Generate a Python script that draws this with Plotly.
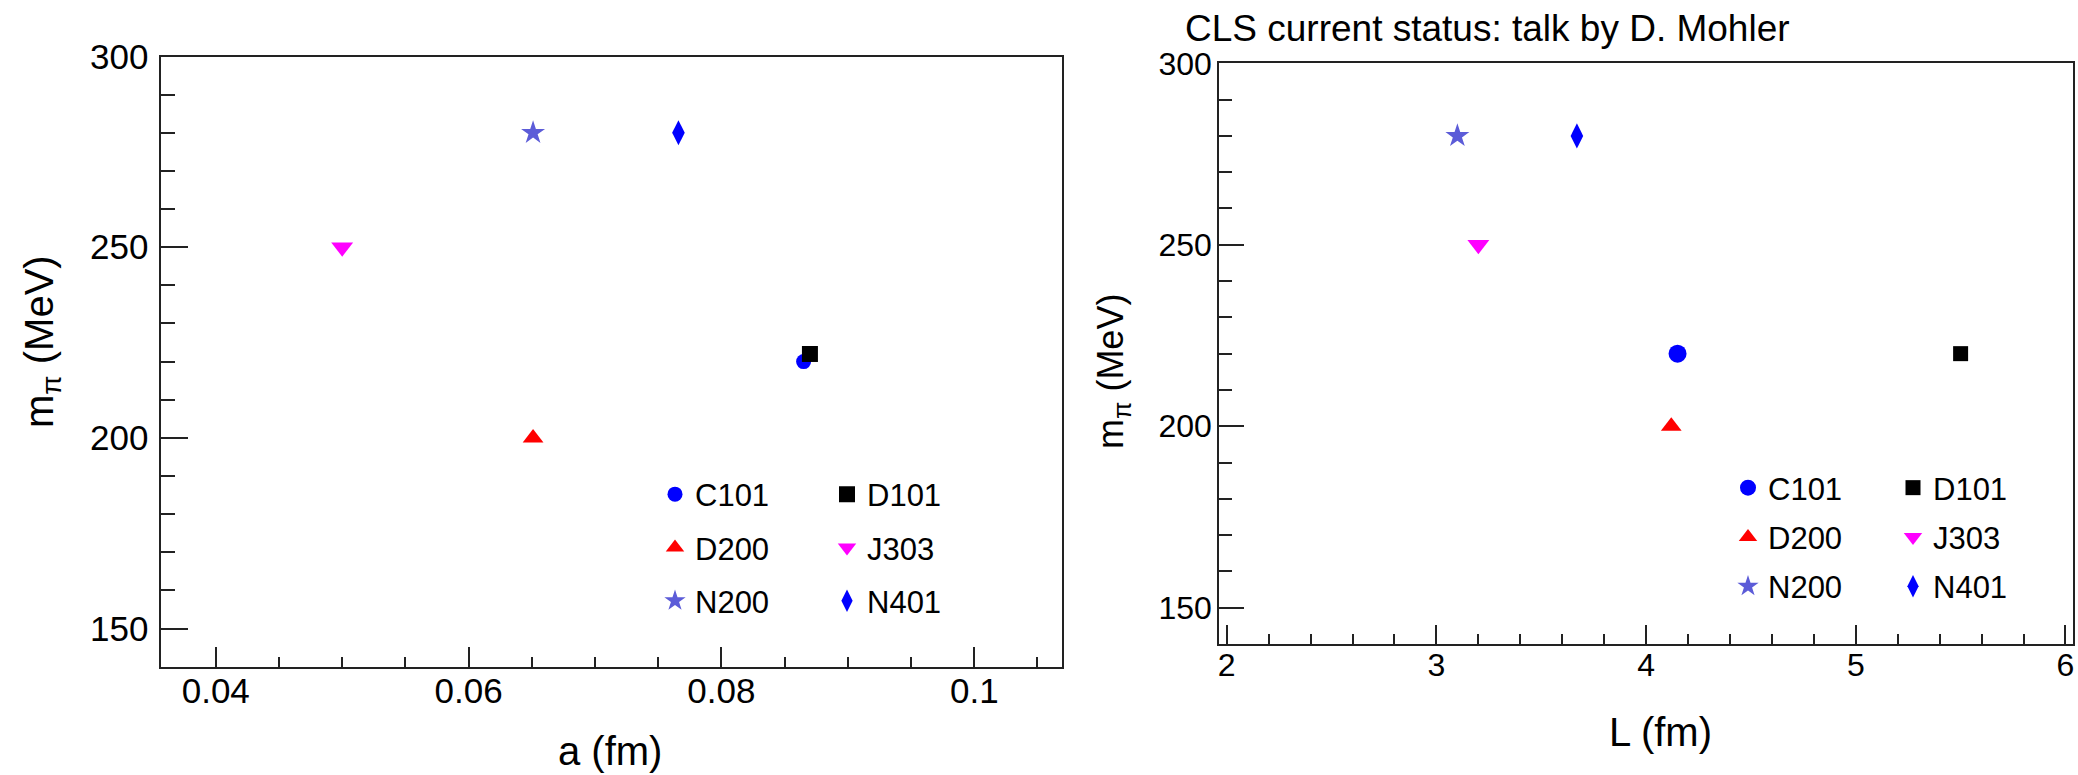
import plotly.graph_objects as go

# ---- data ----
ensembles = ["C101", "D101", "D200", "J303", "N200", "N401"]
a_fm = [0.0865, 0.0870, 0.0651, 0.0500, 0.0651, 0.0766]
mpi_vs_a = [220, 222, 200, 250, 280, 280]
L_fm = [4.15, 5.50, 4.12, 3.20, 3.10, 3.67]
mpi_vs_L = [220, 220, 200, 250, 280, 280]

# ---- styles ----
symbols = ["circle", "square", "triangle-up", "triangle-down", "star", "diamond-tall"]
colors = ["#0000ff", "#000000", "#ff0000", "#ff00ff", "#5c5cd8", "#0000ff"]
sizes_left = [15, 16, 18, 19, 18, 18]
sizes_right = [18, 15, 18, 19, 18, 18]

W, H = 2078, 775
FONT = "Liberation Sans, Arial, Helvetica, sans-serif"


def px(x):
    return x / W


def py(y):
    return 1 - y / H


fig = go.Figure()

for i, name in enumerate(ensembles):
    fig.add_trace(go.Scatter(
        x=[a_fm[i]], y=[mpi_vs_a[i]], mode="markers", name=name,
        xaxis="x", yaxis="y",
        legend="legend" if i % 2 == 0 else "legend2",
        legendgroup="L" + name,
        marker=dict(symbol=symbols[i], color=colors[i], size=sizes_left[i],
                    line=dict(width=0)),
    ))
for i, name in enumerate(ensembles):
    fig.add_trace(go.Scatter(
        x=[L_fm[i]], y=[mpi_vs_L[i]], mode="markers", name=name,
        xaxis="x2", yaxis="y2",
        legend="legend3" if i % 2 == 0 else "legend4",
        legendgroup="R" + name,
        marker=dict(symbol=symbols[i], color=colors[i], size=sizes_right[i],
                    line=dict(width=0)),
    ))

axis_common = dict(
    showline=True, mirror=True, linecolor="#222222", linewidth=2,
    showgrid=False, zeroline=False, ticks="inside", tickcolor="#222222",
    tickwidth=2, color="#000000",
)

fig.update_layout(
    width=W, height=H,
    margin=dict(l=0, r=0, t=0, b=0, autoexpand=False),
    paper_bgcolor="white", plot_bgcolor="white",
    font=dict(family=FONT, color="black"),
    showlegend=True,
    xaxis=dict(domain=[px(161.4), px(1061.5)], range=[0.0357, 0.1069],
               anchor="y", tick0=0.04, dtick=0.02, ticklen=20,
               minor=dict(dtick=0.005, tick0=0.04, ticklen=10, ticks="inside",
                          tickcolor="#222222", tickwidth=2),
               tickfont=dict(size=35), ticklabelstandoff=-8, **axis_common),
    yaxis=dict(domain=[py(666.7), py(56.5)], range=[140, 300],
               anchor="x", tick0=150, dtick=50, ticklen=27,
               minor=dict(dtick=10, tick0=150, ticklen=14, ticks="inside",
                          tickcolor="#222222", tickwidth=2),
               tickfont=dict(size=35), ticklabelstandoff=4, **axis_common),
    xaxis2=dict(domain=[px(1219.2), px(2073)], range=[1.964, 6.036],
                anchor="y2", tick0=2, dtick=1, ticklen=19,
                minor=dict(dtick=0.2, tick0=2, ticklen=10, ticks="inside",
                           tickcolor="#222222", tickwidth=2),
                tickfont=dict(size=32), ticklabelstandoff=-8, **axis_common),
    yaxis2=dict(domain=[py(644), py(63.3)], range=[140, 300],
                anchor="x2", tick0=150, dtick=50, ticklen=25,
                minor=dict(dtick=10, tick0=150, ticklen=13, ticks="inside",
                           tickcolor="#222222", tickwidth=2),
                tickfont=dict(size=32), ticklabelstandoff=-1, **axis_common),
)

leg_common = dict(bgcolor="rgba(0,0,0,0)", borderwidth=0, orientation="v",
                  xanchor="left", yanchor="top", traceorder="grouped",
                  itemclick=False, itemdoubleclick=False)
fig.update_layout(
    legend=dict(x=px(655), y=py(467.5), font=dict(size=31), tracegroupgap=10, **leg_common),
    legend2=dict(x=px(827), y=py(467.5), font=dict(size=31), tracegroupgap=10, **leg_common),
    legend3=dict(x=px(1728), y=py(461), font=dict(size=31), tracegroupgap=6, **leg_common),
    legend4=dict(x=px(1893), y=py(461), font=dict(size=31), tracegroupgap=6, **leg_common),
)

annotations = [
    dict(text="CLS current status: talk by D. Mohler", x=px(1183), y=py(28),
         xanchor="left", yanchor="middle", font=dict(size=37)),
    dict(text="a (fm)", x=px(610), y=py(751), xanchor="center", yanchor="middle",
         font=dict(size=40)),
    dict(text="L (fm)", x=px(1660), y=py(732), xanchor="center", yanchor="middle",
         font=dict(size=40)),
    dict(text="m<sub>π</sub> (MeV)", x=px(42), y=py(342), xanchor="center",
         yanchor="middle", textangle=-90, font=dict(size=40)),
    dict(text="m<sub>π</sub> (MeV)", x=px(1113), y=py(372), xanchor="center",
         yanchor="middle", textangle=-90, font=dict(size=36)),
]
for a in annotations:
    a.update(xref="paper", yref="paper", showarrow=False)
fig.update_layout(annotations=annotations)

fig.write_html(
    "out.html",
    config={"displayModeBar": False},
    post_script="document.body.style.margin='0px';document.body.style.overflow='hidden';",
)
